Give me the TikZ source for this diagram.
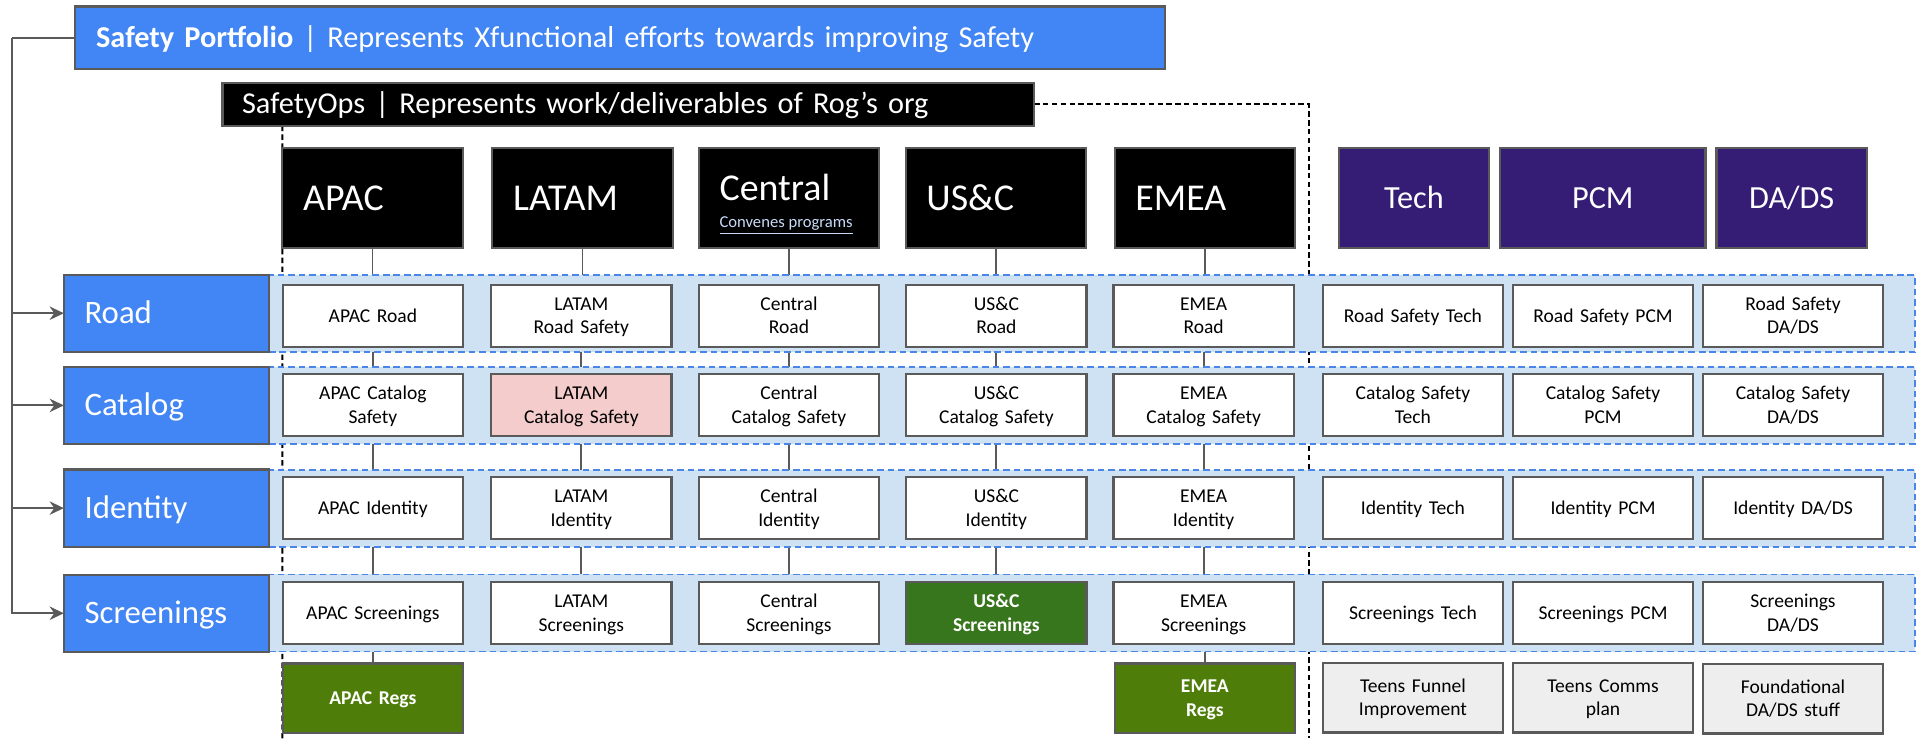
\documentclass[tikz,border=0pt]{standalone}
\usepackage{fontspec}
\setmainfont{Carlito}
\usetikzlibrary{arrows.meta}

\definecolor{gblue}{HTML}{4285F4}
\definecolor{edge}{HTML}{5A5A5A}
\definecolor{bandfill}{HTML}{CFE2F3}
\definecolor{banddash}{HTML}{4A86E8}
\definecolor{purplehdr}{HTML}{351C75}
\definecolor{pinkcell}{HTML}{F4CCCC}
\definecolor{greencell}{HTML}{38761D}
\definecolor{olivecell}{HTML}{4F7D0A}
\definecolor{graycell}{HTML}{EEEEEE}
\definecolor{linkblue}{HTML}{C9DAF8}

\pgfdeclarelayer{lines}
\pgfdeclarelayer{bands}
\pgfsetlayers{lines,bands,main}

\tikzset{
  every node/.style={inner sep=0pt, outer sep=0pt},
  box/.style={draw=edge, line width=0.9pt},
  topbar/.style={box, text=white, align=left, font=\fontsize{12.4}{15}\selectfont,
    text height=8pt, text depth=0pt},
  hdr/.style={box, fill=black, text=white, minimum width=73.75pt, minimum height=40.9pt,
    align=left, inner xsep=8.5pt, text width=56.75pt, font=\fontsize{15.5}{18}\selectfont,
    text height=10pt, text depth=0pt},
  fhdr/.style={box, fill=purplehdr, text=white, minimum height=40.9pt, align=center,
    font=\fontsize{13.2}{16}\selectfont, text height=8.5pt, text depth=0pt},
  rowlab/.style={box, fill=gblue, text=white, minimum width=84pt, minimum height=31.5pt,
    align=left, inner xsep=8.5pt, text width=67pt, font=\fontsize{13.4}{16}\selectfont,
    text height=8.6pt, text depth=0pt},
  band/.style={draw=banddash, fill=bandfill, line width=0.8pt,
    dash pattern=on 2.7pt off 1.6pt, minimum width=673.25pt, minimum height=31.5pt},
  cell/.style={box, fill=white, minimum width=73.75pt, minimum height=25.2pt,
    text width=73.75pt, align=center, font=\fontsize{8}{9.6}\selectfont,
    text height=5.15pt, text depth=0pt},
  cell2/.style={cell, text depth=9.6pt},
  low/.style={minimum height=28.35pt},
  link/.style={draw=edge, line width=0.75pt},
  opsline/.style={draw=black, line width=0.8pt, dash pattern=on 2.2pt off 1.4pt},
  feed/.style={draw=edge, line width=0.8pt, -{Stealth[length=5.8pt,width=5.5pt]}},
}

\begin{document}
\begin{tikzpicture}[x=0.5pt, y=-0.5pt]
\useasboundingbox (0,0) rectangle (1568,604);

% --- top banners ---
\node[topbar, fill=gblue, minimum height=25.5pt, inner xsep=8.65pt, text width=428.5pt]
  (port) at (507.1,30.9)
  {\textbf{Safety Portfolio} | Represents Xfunctional efforts towards improving Safety};
\node[topbar, fill=black, minimum height=17.6pt, inner xsep=8pt, text width=316pt]
  (ops) at (514,85.2)
  {SafetyOps | Represents work/deliverables of Rog’s org};

% --- region headers ---
\node[hdr] (hapac) at (304.7,162.2) {APAC};
\node[hdr] (hlatam) at (476.5,162.2) {LATAM};
\node[hdr, font=\fontsize{15.5}{10.8}\selectfont, text height=10pt, text depth=7.8pt]
  (hcentral) at (645.3,162.2)
  {Central\\{\fontsize{6.8}{10.8}\selectfont\color{linkblue}\underline{Convenes\hspace{0.23em}programs}}};
\node[hdr] (husc) at (814.5,162.2) {US\&C};
\node[hdr] (hemea) at (985.5,162.2) {EMEA};

% --- functional headers ---
\node[fhdr, minimum width=61.4pt] (htech) at (1156.5,162.2) {Tech};
\node[fhdr, minimum width=84pt] (hpcm) at (1311,162.2) {PCM};
\node[fhdr, minimum width=61.5pt] (hdads) at (1465.5,162.2) {DA/DS};

% --- row bands ---
\begin{pgfonlayer}{bands}
\node[band] (bRoad) at (893.25,256.6) {};
\node[band] (bCatalog) at (893.25,331.5) {};
\node[band] (bIdentity) at (893.25,415.7) {};
\node[band] (bScreen) at (893.25,501.4) {};
\end{pgfonlayer}

% --- row labels ---
\node[rowlab] (lRoad) at (136.2,256.2) {Road};
\node[rowlab] (lCatalog) at (136.2,331.6) {Catalog};
\node[rowlab] (lIdentity) at (136.2,415.6) {Identity};
\node[rowlab] (lScreen) at (136.2,501.6) {Screenings};

% --- Road row ---
\node[cell]  (apac1)    at (305,258.3)    {APAC Road};
\node[cell2] (latam1)   at (475.5,258.3)  {LATAM\\Road Safety};
\node[cell2] (central1) at (645.3,258.3)  {Central\\Road};
\node[cell2] (usc1)     at (815,258.3)    {US\&C\\Road};
\node[cell2] (emea1)    at (984.5,258.3)  {EMEA\\Road};
\node[cell]  (tech1)    at (1155.7,258.3) {Road Safety Tech};
\node[cell]  (pcm1)     at (1311.2,258.3) {Road Safety PCM};
\node[cell2] (dads1)    at (1466.6,258.3) {Road Safety\\DA/DS};

% --- Catalog row ---
\node[cell2] (apac2)    at (305,331.3)    {APAC Catalog\\Safety};
\node[cell2, fill=pinkcell] (latam2) at (475.5,331.3) {LATAM\\Catalog Safety};
\node[cell2] (central2) at (645.3,331.3)  {Central\\Catalog Safety};
\node[cell2] (usc2)     at (815,331.3)    {US\&C\\Catalog Safety};
\node[cell2] (emea2)    at (984.5,331.3)  {EMEA\\Catalog Safety};
\node[cell2] (tech2)    at (1155.7,331.3) {Catalog Safety\\Tech};
\node[cell2] (pcm2)     at (1311.2,331.3) {Catalog Safety\\PCM};
\node[cell2] (dads2)    at (1466.6,331.3) {Catalog Safety\\DA/DS};

% --- Identity row ---
\node[cell]  (apac3)    at (305,415.65)    {APAC Identity};
\node[cell2] (latam3)   at (475.5,415.65)  {LATAM\\Identity};
\node[cell2] (central3) at (645.3,415.65)  {Central\\Identity};
\node[cell2] (usc3)     at (815,415.65)    {US\&C\\Identity};
\node[cell2] (emea3)    at (984.5,415.65)  {EMEA\\Identity};
\node[cell]  (tech3)    at (1155.7,415.65) {Identity Tech};
\node[cell]  (pcm3)     at (1311.2,415.65) {Identity PCM};
\node[cell]  (dads3)    at (1466.6,415.65) {Identity DA/DS};

% --- Screenings row ---
\node[cell]  (apac4)    at (305,501.4)    {APAC Screenings};
\node[cell2] (latam4)   at (475.5,501.4)  {LATAM\\Screenings};
\node[cell2] (central4) at (645.3,501.4)  {Central\\Screenings};
\node[cell2, fill=greencell, text=white, font=\fontsize{8}{9.6}\selectfont\bfseries]
  (usc4) at (815,501.4) {US\&C\\Screenings};
\node[cell2] (emea4)    at (984.5,501.4)  {EMEA\\Screenings};
\node[cell]  (tech4)    at (1155.7,501.4) {Screenings Tech};
\node[cell]  (pcm4)     at (1311.2,501.4) {Screenings PCM};
\node[cell2] (dads4)    at (1466.6,501.4) {Screenings\\DA/DS};

% --- bottom items ---
\node[cell, low, fill=olivecell, text=white, font=\fontsize{8}{9.6}\selectfont\bfseries]
  (apacRegs) at (305,571) {APAC Regs};
\node[cell2, low, fill=olivecell, text=white, font=\fontsize{8}{9.6}\selectfont\bfseries]
  (emeaRegs) at (985.5,571) {EMEA\\Regs};
\node[cell2, low, fill=graycell] (techTeens) at (1155.7,570.8) {Teens Funnel\\Improvement};
\node[cell2, low, fill=graycell] (pcmTeens)  at (1311.2,570.8) {Teens Comms\\plan};
\node[cell2, low, fill=graycell] (dadsBase)  at (1466.6,571.6) {Foundational\\DA/DS stuff};

% --- free ends ---
\coordinate (trunkTop) at (9.5,30.9);
\coordinate (opsBottom) at (1070.4,604);
\coordinate (leftBottom) at (230.9,604);

% --- connectors and dashed scope lines, beneath the bands ---
\begin{pgfonlayer}{lines}
\draw[opsline] (ops.east) -| (opsBottom);
\draw[opsline] (hapac.west |- ops.south) -- (leftBottom);
\foreach \c in {apac,latam,central,usc,emea}{
  \draw[link] (h\c.south) -- (h\c.south |- \c1.north);
  \draw[link] (\c1.south) -- (\c1.south |- \c2.north);
  \draw[link] (\c2.south) -- (\c2.south |- \c3.north);
  \draw[link] (\c3.south) -- (\c3.south |- \c4.north);
}
\draw[link] (apac4.south) -- (apac4.south |- apacRegs.north);
\draw[link] (emeaRegs.north) -- (emeaRegs.north |- emea4.south);
\end{pgfonlayer}

% --- portfolio feed into each workstream ---
\draw[link, line width=0.8pt] (port.west) -- (trunkTop);
\foreach \r in {lRoad,lCatalog,lIdentity,lScreen}{
  \draw[feed] (trunkTop) |- (\r.west);
}
\end{tikzpicture}
\end{document}
